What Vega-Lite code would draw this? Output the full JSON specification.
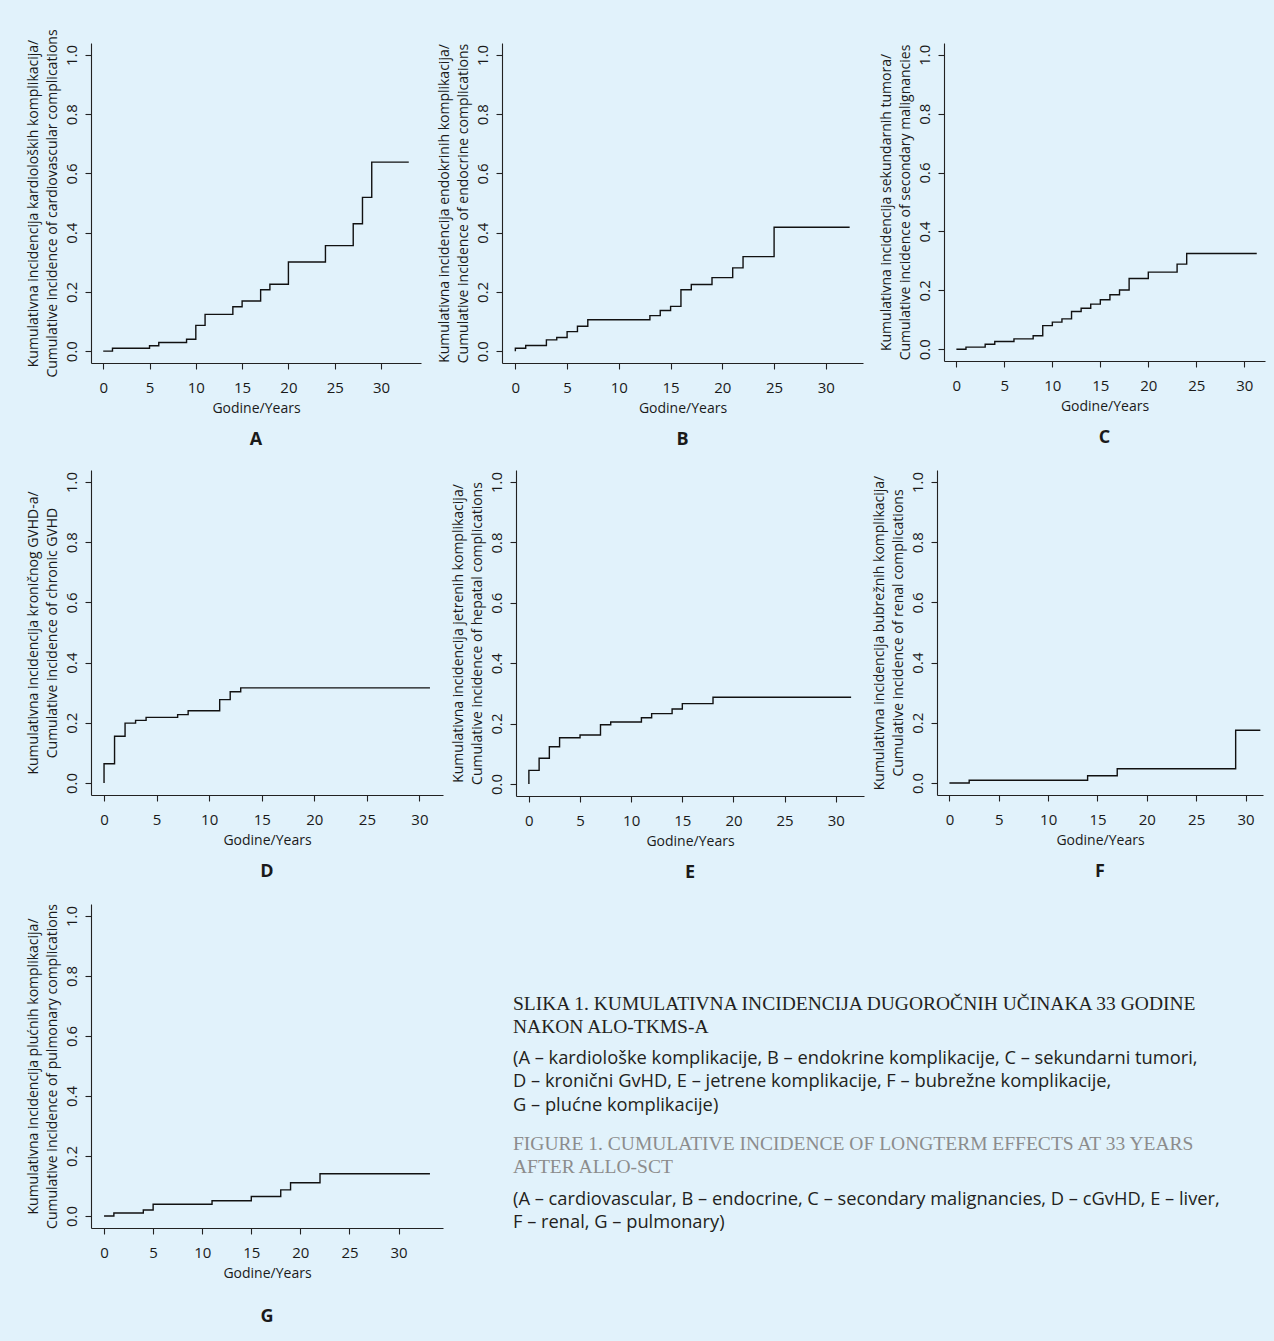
{
  "$schema": "https://vega.github.io/schema/vega-lite/v6.json",
  "background": "#e1f2fb",
  "padding": {"left": 25, "top": 28, "right": 20, "bottom": 30},
  "autosize": {"type": "pad"},
  "spacing": 21,
  "datasets": {
    "A": [{"t":0,"ci":0},{"t":1,"ci":0.010},{"t":5,"ci":0.018},{"t":6,"ci":0.029},{"t":9,"ci":0.040},{"t":10,"ci":0.087},{"t":11,"ci":0.124},{"t":14,"ci":0.150},{"t":15,"ci":0.169},{"t":17,"ci":0.207},{"t":18,"ci":0.226},{"t":20,"ci":0.301},{"t":24,"ci":0.356},{"t":27,"ci":0.430},{"t":28,"ci":0.519},{"t":29,"ci":0.638},{"t":33,"ci":0.638}],
    "B": [{"t":0,"ci":0},{"t":0,"ci":0.010},{"t":1,"ci":0.019},{"t":3,"ci":0.038},{"t":4,"ci":0.046},{"t":5,"ci":0.066},{"t":6,"ci":0.084},{"t":7,"ci":0.106},{"t":13,"ci":0.120},{"t":14,"ci":0.137},{"t":15,"ci":0.151},{"t":16,"ci":0.207},{"t":17,"ci":0.225},{"t":19,"ci":0.248},{"t":21,"ci":0.281},{"t":22,"ci":0.319},{"t":25,"ci":0.418},{"t":32.3,"ci":0.418}],
    "C": [{"t":0,"ci":0},{"t":1,"ci":0.007},{"t":3,"ci":0.017},{"t":4,"ci":0.026},{"t":6,"ci":0.035},{"t":8,"ci":0.046},{"t":9,"ci":0.080},{"t":10,"ci":0.092},{"t":11,"ci":0.103},{"t":12,"ci":0.128},{"t":13,"ci":0.139},{"t":14,"ci":0.153},{"t":15,"ci":0.168},{"t":16,"ci":0.185},{"t":17,"ci":0.201},{"t":18,"ci":0.240},{"t":20,"ci":0.262},{"t":23,"ci":0.289},{"t":24,"ci":0.325},{"t":31.3,"ci":0.325}],
    "D": [{"t":0,"ci":0},{"t":0,"ci":0.064},{"t":1,"ci":0.155},{"t":2,"ci":0.199},{"t":3,"ci":0.208},{"t":4,"ci":0.218},{"t":7,"ci":0.227},{"t":8,"ci":0.240},{"t":11,"ci":0.277},{"t":12,"ci":0.303},{"t":13,"ci":0.316},{"t":31,"ci":0.316}],
    "E": [{"t":0,"ci":0},{"t":0,"ci":0.045},{"t":1,"ci":0.085},{"t":2,"ci":0.123},{"t":3,"ci":0.153},{"t":5,"ci":0.162},{"t":7,"ci":0.196},{"t":8,"ci":0.205},{"t":11,"ci":0.219},{"t":12,"ci":0.233},{"t":14,"ci":0.248},{"t":15,"ci":0.266},{"t":18,"ci":0.287},{"t":31.5,"ci":0.287}],
    "F": [{"t":0,"ci":0},{"t":2,"ci":0.009},{"t":14,"ci":0.024},{"t":17,"ci":0.047},{"t":29,"ci":0.175},{"t":31.5,"ci":0.175}],
    "G": [{"t":0,"ci":0},{"t":1,"ci":0.010},{"t":4,"ci":0.020},{"t":5,"ci":0.039},{"t":11,"ci":0.051},{"t":15,"ci":0.065},{"t":18,"ci":0.087},{"t":19,"ci":0.111},{"t":22,"ci":0.141},{"t":33.2,"ci":0.141}],
    "caption": [
      {"block":"t1","line":1,"text":"SLIKA 1. KUMULATIVNA INCIDENCIJA DUGOROČNIH UČINAKA 33 GODINE"},
      {"block":"t1","line":2,"text":"NAKON ALO-TKMS-A"},
      {"block":"b1","line":3,"text":"(A – kardiološke komplikacije, B – endokrine komplikacije, C – sekundarni tumori,"},
      {"block":"b1","line":4,"text":"D – kronični GvHD, E – jetrene komplikacije, F – bubrežne komplikacije,"},
      {"block":"b1","line":5,"text":"G – plućne komplikacije)"},
      {"block":"t2","line":6,"text":"FIGURE 1. CUMULATIVE INCIDENCE OF LONGTERM EFFECTS AT 33 YEARS"},
      {"block":"t2","line":7,"text":"AFTER ALLO-SCT"},
      {"block":"b2","line":8,"text":"(A – cardiovascular, B – endocrine, C – secondary malignancies, D – cGvHD, E – liver,"},
      {"block":"b2","line":9,"text":"F – renal, G – pulmonary)"}
    ]
  },
  "config": {
    "view": {"stroke": null},
    "font": "Open Sans",
    "line": {"color": "#111111", "strokeWidth": 1.4, "interpolate": "step-after"},
    "text": {"align": "left", "baseline": "middle"},
    "axis": {
      "grid": false, "domainColor": "#222222", "tickColor": "#222222", "domainWidth": 1.1, "tickWidth": 1.1, "tickSize": 6,
      "labelFont": "Open Sans", "labelFontSize": 15, "labelColor": "#1a1a1a", "labelFlush": false, "labelOverlap": false,
      "titleFont": "Open Sans", "titleFontSize": 14, "titleFontWeight": "normal", "titleColor": "#1a1a1a"
    },
    "axisX": {"labelPadding": 11, "titlePadding": 6},
    "axisY": {"labelAngle": -90, "labelAlign": "center", "labelBaseline": "bottom", "labelPadding": 6, "titlePadding": 5, "titleLineHeight": 19},
    "title": {"orient": "bottom", "fontSize": 18, "fontWeight": "bold", "font": "Open Sans", "color": "#1a1a1a", "offset": 16, "anchor": "middle", "frame": "group"}
  },
  "vconcat": [
    {
      "bounds": "flush",
      "spacing": 81,
      "hconcat": [
        {
          "width": 330, "height": 320, "data": {"name": "A"}, "title": "A",
          "mark": {"type": "line"},
          "encoding": {
            "order": {"value": null},
            "x": {"field": "t", "type": "quantitative", "scale": {"domain": [-1.32, 34.32], "nice": false, "zero": false}, "axis": {"title": "Godine/Years", "values": [0,5,10,15,20,25,30]}},
            "y": {"field": "ci", "type": "quantitative", "scale": {"domain": [-0.04, 1.04], "nice": false, "zero": false}, "axis": {"title": ["Kumulativna incidencija kardioloških komplikacija/", "Cumulative incidence of cardiovascular complications"], "values": [0,0.2,0.4,0.6,0.8,1.0], "format": ".1f"}}
          }
        },
        {
          "width": 361, "height": 320, "data": {"name": "B"}, "title": "B",
          "mark": {"type": "line"},
          "encoding": {
            "order": {"value": null},
            "x": {"field": "t", "type": "quantitative", "scale": {"domain": [-1.29, 33.59], "nice": false, "zero": false}, "axis": {"title": "Godine/Years", "values": [0,5,10,15,20,25,30]}},
            "y": {"field": "ci", "type": "quantitative", "scale": {"domain": [-0.04, 1.04], "nice": false, "zero": false}, "axis": {"title": ["Kumulativna incidencija endokrinih komplikacija/", "Cumulative incidence of endocrine complications"], "values": [0,0.2,0.4,0.6,0.8,1.0], "format": ".1f"}}
          }
        },
        {
          "width": 321, "height": 318, "data": {"name": "C"}, "title": "C",
          "mark": {"type": "line"},
          "encoding": {
            "order": {"value": null},
            "x": {"field": "t", "type": "quantitative", "scale": {"domain": [-1.29, 32.16], "nice": false, "zero": false}, "axis": {"title": "Godine/Years", "values": [0,5,10,15,20,25,30]}},
            "y": {"field": "ci", "type": "quantitative", "scale": {"domain": [-0.04, 1.04], "nice": false, "zero": false}, "axis": {"title": ["Kumulativna incidencija sekundarnih tumora/", "Cumulative incidence of secondary malignancies"], "values": [0,0.2,0.4,0.6,0.8,1.0], "format": ".1f"}}
          }
        }
      ]
    },
    {
      "bounds": "flush",
      "spacing": 73,
      "hconcat": [
        {
          "width": 352, "height": 325, "data": {"name": "D"}, "title": "D",
          "mark": {"type": "line"},
          "encoding": {
            "order": {"value": null},
            "x": {"field": "t", "type": "quantitative", "scale": {"domain": [-1.24, 32.24], "nice": false, "zero": false}, "axis": {"title": "Godine/Years", "values": [0,5,10,15,20,25,30]}},
            "y": {"field": "ci", "type": "quantitative", "scale": {"domain": [-0.04, 1.04], "nice": false, "zero": false}, "axis": {"title": ["Kumulativna incidencija kroničnog GVHD-a/", "Cumulative incidence of chronic GVHD"], "values": [0,0.2,0.4,0.6,0.8,1.0], "format": ".1f"}}
          }
        },
        {
          "width": 348, "height": 326, "data": {"name": "E"}, "title": "E",
          "mark": {"type": "line"},
          "encoding": {
            "order": {"value": null},
            "x": {"field": "t", "type": "quantitative", "scale": {"domain": [-1.26, 32.76], "nice": false, "zero": false}, "axis": {"title": "Godine/Years", "values": [0,5,10,15,20,25,30]}},
            "y": {"field": "ci", "type": "quantitative", "scale": {"domain": [-0.04, 1.04], "nice": false, "zero": false}, "axis": {"title": ["Kumulativna incidencija jetrenih komplikacija/", "Cumulative incidence of hepatal complications"], "values": [0,0.2,0.4,0.6,0.8,1.0], "format": ".1f"}}
          }
        },
        {
          "width": 326, "height": 325, "data": {"name": "F"}, "title": "F",
          "mark": {"type": "line"},
          "encoding": {
            "order": {"value": null},
            "x": {"field": "t", "type": "quantitative", "scale": {"domain": [-1.26, 31.77], "nice": false, "zero": false}, "axis": {"title": "Godine/Years", "values": [0,5,10,15,20,25,30]}},
            "y": {"field": "ci", "type": "quantitative", "scale": {"domain": [-0.04, 1.04], "nice": false, "zero": false}, "axis": {"title": ["Kumulativna incidencija bubrežnih komplikacija/", "Cumulative incidence of renal complications"], "values": [0,0.2,0.4,0.6,0.8,1.0], "format": ".1f"}}
          }
        }
      ]
    },
    {
      "bounds": "flush",
      "spacing": 70,
      "hconcat": [
        {
          "width": 352, "height": 324, "data": {"name": "G"}, "title": {"text": "G", "offset": 28},
          "mark": {"type": "line"},
          "encoding": {
            "order": {"value": null},
            "x": {"field": "t", "type": "quantitative", "scale": {"domain": [-1.33, 34.53], "nice": false, "zero": false}, "axis": {"title": "Godine/Years", "values": [0,5,10,15,20,25,30]}},
            "y": {"field": "ci", "type": "quantitative", "scale": {"domain": [-0.04, 1.04], "nice": false, "zero": false}, "axis": {"title": ["Kumulativna incidencija plućnih komplikacija/", "Cumulative incidence of pulmonary complications"], "values": [0,0.2,0.4,0.6,0.8,1.0], "format": ".1f"}}
          }
        },
        {
          "width": 720, "height": 330, "data": {"name": "caption"},
          "resolve": {"scale": {"y": "independent"}},
          "layer": [
            {
              "transform": [{"filter": {"field": "block", "equal": "t1"}}],
              "mark": {"type": "text", "font": "Liberation Serif", "fontSize": 19.5, "color": "#231f20"},
              "encoding": {
                "x": {"datum": 0, "type": "quantitative", "scale": {"domain": [0, 1]}, "axis": null},
                "y": {"field": "line", "type": "quantitative", "scale": {"domain": [-3.293, 10.87], "reverse": true, "nice": false, "zero": false}, "axis": null},
                "text": {"field": "text"}
              }
            },
            {
              "transform": [{"filter": {"field": "block", "equal": "b1"}}],
              "mark": {"type": "text", "font": "Open Sans", "fontSize": 18.3, "color": "#231f20"},
              "encoding": {
                "x": {"datum": 0, "type": "quantitative", "scale": {"domain": [0, 1]}, "axis": null},
                "y": {"field": "line", "type": "quantitative", "scale": {"domain": [-3.654, 10.509], "reverse": true, "nice": false, "zero": false}, "axis": null},
                "text": {"field": "text"}
              }
            },
            {
              "transform": [{"filter": {"field": "block", "equal": "t2"}}],
              "mark": {"type": "text", "font": "Liberation Serif", "fontSize": 19.5, "color": "#8c8c8c"},
              "encoding": {
                "x": {"datum": 0, "type": "quantitative", "scale": {"domain": [0, 1]}, "axis": null},
                "y": {"field": "line", "type": "quantitative", "scale": {"domain": [-4.302, 9.861], "reverse": true, "nice": false, "zero": false}, "axis": null},
                "text": {"field": "text"}
              }
            },
            {
              "transform": [{"filter": {"field": "block", "equal": "b2"}}],
              "mark": {"type": "text", "font": "Open Sans", "fontSize": 18.3, "color": "#231f20"},
              "encoding": {
                "x": {"datum": 0, "type": "quantitative", "scale": {"domain": [0, 1]}, "axis": null},
                "y": {"field": "line", "type": "quantitative", "scale": {"domain": [-4.705, 9.458], "reverse": true, "nice": false, "zero": false}, "axis": null},
                "text": {"field": "text"}
              }
            }
          ]
        }
      ]
    }
  ]
}
